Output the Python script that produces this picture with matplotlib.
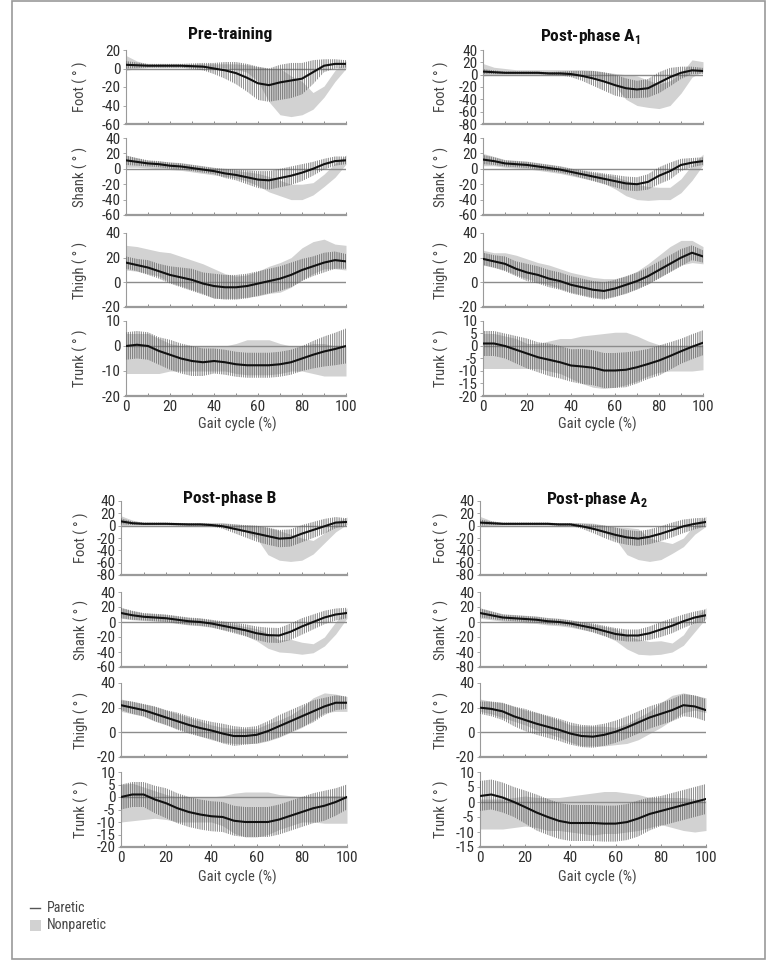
import matplotlib
matplotlib.use('Agg')
import matplotlib.pyplot as plt
from matplotlib.patches import Rectangle
from matplotlib.lines import Line2D
import numpy as np

plt.rcParams['font.family'] = ['Roboto Condensed', 'Liberation Sans Narrow', 'Roboto', 'DejaVu Sans']
plt.rcParams['mathtext.fontset'] = 'custom'
plt.rcParams['mathtext.rm'] = 'Roboto Condensed'
plt.rcParams['mathtext.bf'] = 'Roboto Condensed:bold'
plt.rcParams['hatch.linewidth'] = 0.45

# gait cycle sample points (%)
pct = list(range(0, 101, 5))

# pm/ps = paretic mean/sd, nm/ns = nonparetic mean/sd (degrees)
pre_foot_pm = [4, 3.5, 3, 3, 3, 3, 2.5, 2, 0, -2, -5, -10, -16, -18, -15, -13, -11, -4, 3, 5, 5]
pre_foot_ps = [4, 3, 2, 2, 2, 2, 3, 4, 6, 9, 12, 15, 18, 18, 19, 19, 17, 13, 7, 5, 4]
pre_foot_nm = [6, 4, 3, 3, 3, 3, 3, 3, 3, 3, 2, 0, -6, -18, -25, -30, -32, -35, -25, -8, 4]
pre_foot_ns = [8, 4, 2, 2, 2, 2, 2, 2, 2, 2, 3, 4, 8, 18, 25, 22, 18, 9, 6, 6, 4]

pre_shank_pm = [11, 9, 7, 6, 4, 3, 1, -1, -3, -6, -8, -11, -14, -15, -12, -9, -5, 0, 6, 10, 11]
pre_shank_ps = [6, 5, 4, 4, 4, 4, 4, 4, 4, 6, 7, 9, 11, 12, 12, 12, 11, 9, 7, 6, 5]
pre_shank_nm = [10, 8, 6, 5, 4, 3, 1, -1, -3, -5, -7, -10, -14, -20, -25, -30, -30, -26, -15, -2, 12]
pre_shank_ns = [8, 6, 5, 5, 5, 5, 5, 5, 5, 5, 5, 6, 8, 10, 10, 10, 10, 8, 8, 9, 6]

pre_thigh_pm = [16, 14, 12, 9, 6, 4, 2, -1, -3, -4, -4, -3, -1, 1, 3, 6, 10, 13, 16, 18, 17]
pre_thigh_ps = [5, 5, 6, 6, 7, 8, 9, 9, 10, 10, 10, 10, 10, 10, 10, 10, 9, 8, 8, 7, 6]
pre_thigh_nm = [20, 19, 17, 15, 12, 9, 6, 3, -1, -3, -4, -3, -1, 2, 4, 8, 15, 20, 23, 21, 20]
pre_thigh_ns = [10, 10, 10, 10, 12, 12, 12, 12, 12, 10, 9, 9, 10, 11, 12, 12, 13, 13, 12, 10, 10]

pre_trunk_pm = [0, 0.5, 0, -2, -3.5, -5, -6, -6.5, -6, -6.5, -7.3, -7.7, -7.7, -7.7, -7.3, -6.5, -5, -3.5, -2.2, -1.2, 0]
pre_trunk_ps = [5.5, 5.5, 5.5, 5.5, 6, 6, 6, 5.5, 5, 5, 5, 5, 5, 5, 5, 5, 5, 5.5, 6, 6.5, 7]
pre_trunk_nm = [-3, -3, -3, -4, -4.5, -5, -5, -5, -5, -5, -5, -4.5, -4.5, -4.5, -5, -5, -5, -5, -5.5, -6, -6]
pre_trunk_ns = [8, 8, 8, 7, 5.5, 5, 5, 5, 5, 5, 6, 7, 7, 7, 6, 5, 5, 6, 6.5, 6, 6]

a1_foot_pm = [5, 4, 3, 3, 3, 3, 2, 2, 1, -2, -6, -11, -17, -22, -24, -22, -13, -4, 3, 7, 6]
a1_foot_ps = [4, 3, 2, 2, 2, 2, 2, 3, 5, 8, 12, 15, 17, 16, 14, 15, 17, 15, 10, 6, 5]
a1_foot_nm = [8, 6, 5, 4, 4, 4, 4, 4, 4, 4, 2, -2, -8, -20, -26, -31, -35, -30, -14, 10, 13]
a1_foot_ns = [10, 6, 5, 4, 4, 4, 4, 4, 4, 4, 5, 6, 10, 20, 24, 22, 20, 20, 16, 14, 8]

a1_shank_pm = [12, 10, 7, 6, 5, 3, 1, -1, -4, -7, -10, -13, -16, -19, -20, -17, -9, -3, 5, 8, 10]
a1_shank_ps = [6, 5, 4, 4, 4, 4, 4, 4, 4, 5, 6, 7, 8, 9, 9, 10, 11, 11, 8, 6, 5]
a1_shank_nm = [12, 10, 7, 6, 5, 3, 1, -1, -4, -7, -10, -13, -18, -25, -30, -32, -32, -32, -22, -5, 12]
a1_shank_ns = [8, 6, 5, 5, 5, 5, 5, 5, 5, 5, 5, 6, 8, 10, 10, 9, 8, 8, 9, 10, 7]

a1_thigh_pm = [19, 17, 15, 11, 8, 6, 3, 1, -2, -4, -6, -7, -5, -2, 1, 5, 10, 15, 20, 24, 21]
a1_thigh_ps = [5, 5, 6, 6, 7, 7, 7, 7, 7, 7, 7, 7, 7, 7, 7, 7, 7, 7, 7, 6, 5]
a1_thigh_nm = [20, 18, 17, 14, 11, 8, 6, 3, 0, -2, -4, -5, -4, -2, 2, 7, 13, 19, 24, 25, 22]
a1_thigh_ns = [6, 6, 7, 8, 8, 8, 8, 8, 8, 8, 8, 8, 7, 7, 7, 8, 9, 10, 10, 9, 7]

a1_trunk_pm = [1, 1, 0, -1.5, -3, -4.5, -5.5, -6.5, -7.8, -8.2, -8.7, -9.8, -9.8, -9.5, -8.5, -7.2, -5.8, -4, -2.1, -0.3, 1.3]
a1_trunk_ps = [5, 5, 5, 5.5, 6, 6, 6.5, 6.5, 6.5, 7, 7, 7, 7, 7, 6.5, 6, 6, 5.5, 5, 5, 5]
a1_trunk_nm = [-2, -2, -2.5, -3, -4, -4, -4, -4, -5, -5.5, -6, -6, -5.5, -5, -5, -5, -5, -5, -5, -5, -4.5]
a1_trunk_ns = [7, 7, 6.5, 6, 5, 5, 6, 7, 8, 9.5, 10.5, 11, 11, 10.5, 9, 7, 5.5, 5, 5, 5, 5]

b_foot_pm = [7, 4, 3, 3, 3, 2.5, 2, 2, 1, -1, -5, -9, -13, -17, -21, -20, -13, -7, -1, 5, 6]
b_foot_ps = [5, 3, 2, 2, 2, 2, 2, 2, 2, 4, 7, 10, 13, 14, 14, 14, 14, 13, 12, 9, 6]
b_foot_nm = [8, 5, 3, 3, 3, 3, 3, 3, 3, 3, 0, -4, -10, -25, -32, -36, -38, -35, -20, -2, 8]
b_foot_ns = [8, 4, 2, 2, 2, 2, 2, 2, 2, 2, 3, 5, 10, 22, 24, 22, 18, 11, 8, 8, 6]

b_shank_pm = [12, 9, 7, 6, 5, 3, 1, 0, -2, -5, -8, -11, -15, -17.5, -18, -13, -6, 0, 6, 10, 12]
b_shank_ps = [7, 6, 5, 5, 5, 5, 5, 5, 5, 6, 7, 8, 9, 10, 10, 11, 11, 10, 9, 8, 7]
b_shank_nm = [12, 9, 7, 6, 5, 3, 1, 0, -2, -5, -8, -12, -17, -25, -32, -32, -35, -35, -26, -8, 12]
b_shank_ns = [7, 6, 5, 5, 5, 5, 5, 5, 5, 5, 5, 6, 8, 10, 8, 9, 8, 6, 6, 8, 7]

b_thigh_pm = [22, 20, 18, 15, 12, 9, 6, 3.5, 1.5, -1, -3, -3, -2, 1, 5, 9, 13, 17, 21, 24, 24]
b_thigh_ps = [4, 5, 5, 6, 6, 7, 7, 7, 7, 8, 8, 7, 7, 8, 9, 9, 9, 9, 7, 6, 5]
b_thigh_nm = [22, 20, 18, 15, 12, 9, 6, 3, 0, -2, -3, -3, -3, 0, 3, 7, 12, 19, 24, 24, 23]
b_thigh_ns = [5, 5, 5, 6, 6, 6, 6, 6, 6, 6, 6, 6, 6, 7, 7, 7, 8, 9, 8, 7, 6]

b_trunk_pm = [0, 1, 1, -1, -2.5, -4.5, -6, -7, -7.7, -8, -9.5, -10, -10, -10, -9, -7.5, -6, -4.5, -3.5, -2, 0]
b_trunk_ps = [5, 5, 5, 5.5, 6, 6, 6, 6, 6, 6, 6, 6, 6, 6, 6, 6, 6, 6, 6, 5.5, 5]
b_trunk_nm = [-2.5, -2, -2.5, -3, -4, -5, -5, -5, -5, -5.5, -6.5, -7, -7, -6.5, -6, -5.5, -5, -5, -5, -5, -5]
b_trunk_ns = [7.5, 7.5, 6.5, 5.5, 5, 5, 5, 5, 5, 6, 8, 9, 9, 8.5, 7, 6, 5, 5, 5.5, 5.5, 5.5]

a2_foot_pm = [5, 4, 3, 3, 3, 3, 3, 2, 2, -1, -5, -10, -15, -19, -21, -18, -13, -7, -1, 3, 6]
a2_foot_ps = [5, 3, 2, 2, 2, 2, 2, 2, 2, 4, 7, 10, 12, 12, 12, 12, 12, 12, 11, 9, 7]
a2_foot_nm = [7, 4, 3, 3, 3, 3, 3, 3, 3, 3, 0, -5, -12, -25, -30, -39, -40, -37, -27, -6, 7]
a2_foot_ns = [8, 4, 2, 2, 2, 2, 2, 2, 2, 2, 4, 6, 10, 22, 25, 19, 15, 8, 7, 8, 8]

a2_shank_pm = [12, 9, 6, 5, 4, 3, 1, 0, -2, -5, -8, -12, -16, -18, -18, -15, -10, -5, 1, 6, 9]
a2_shank_ps = [6, 5, 4, 4, 4, 4, 4, 4, 4, 5, 6, 7, 8, 8, 8, 9, 10, 10, 9, 8, 8]
a2_shank_nm = [12, 9, 6, 5, 4, 3, 1, 0, -2, -5, -8, -12, -17, -27, -33, -35, -34, -34, -24, -4, 12]
a2_shank_ns = [7, 6, 5, 5, 5, 5, 5, 5, 5, 5, 5, 6, 8, 9, 10, 9, 9, 6, 7, 9, 7]

a2_thigh_pm = [20, 19, 17, 13, 10, 7, 4.5, 2, -1, -3, -3.5, -2, 0.5, 4, 8, 12, 15, 18, 22, 21, 18]
a2_thigh_ps = [5, 6, 7, 8, 9, 9, 9, 9, 9, 9, 9, 9, 9, 9, 9, 9, 9, 9, 9, 9, 9]
a2_thigh_nm = [22, 20, 18, 15, 12, 9, 6, 3, -1, -3, -3, -3, -3, -1, 3, 8, 14, 20, 24, 24, 22]
a2_thigh_ns = [5, 5, 6, 6, 6, 7, 7, 7, 7, 8, 8, 8, 7, 8, 9, 9, 10, 10, 8, 6, 6]

a2_trunk_pm = [2, 2.5, 1.5, 0, -1.7, -3.5, -5, -6.3, -7, -7, -7, -7.2, -7.2, -6.7, -5.5, -4, -3, -2, -1, 0, 1]
a2_trunk_ps = [5, 5, 5, 5, 5.5, 6, 6, 6, 6, 6, 6, 6, 6, 6, 6, 5.5, 5, 5, 5, 5, 5]
a2_trunk_nm = [-4, -4, -4, -3.5, -3, -3.5, -4, -4, -4, -4, -4, -3.5, -3.5, -3.5, -3.5, -3.5, -3, -3.5, -4, -4.5, -4.5]
a2_trunk_ns = [5, 5, 5, 5, 5, 5, 5.5, 5.5, 6, 6.5, 7, 7, 7, 6.5, 6, 5, 4.5, 5, 5.5, 5.5, 5]

segments = ['Foot', 'Shank', 'Thigh', 'Trunk']
titles = ['Pre-training', r'Post-phase A$_\mathbf{1}$', 'Post-phase B', r'Post-phase A$_\mathbf{2}$']

# y tick values per panel (top to bottom); label text can differ (typo kept)
yticks = {
    'pre': [[20, 0, -20, -40, -60], [40, 20, 0, -20, -40, -60], [40, 20, 0, -20], [10, 0, -10, -20]],
    'a1': [[40, 20, 0, -20, -40, -60, -80], [40, 20, 0, -20, -40, -60], [40, 20, 0, -20],
           [10, 5, 0, -5, -10, -15, -20]],
    'b': [[40, 20, 0, -20, -40, -60, -80], [40, 20, 0, -20, -40, -60], [40, 20, 0, -20],
          [10, 5, 0, -5, -10, -15, -20]],
    'a2': [[40, 20, 0, -20, -40, -60, -80], [40, 20, 0, -20, -40, -60], [40, 20, 0, -20],
           [10, 5, 0, -5, -10, -15]],
}
a2_shank_labels = ['40', '20', '0', '-20', '-40', '-80']

data = {
    'pre': [(pre_foot_pm, pre_foot_ps, pre_foot_nm, pre_foot_ns),
            (pre_shank_pm, pre_shank_ps, pre_shank_nm, pre_shank_ns),
            (pre_thigh_pm, pre_thigh_ps, pre_thigh_nm, pre_thigh_ns),
            (pre_trunk_pm, pre_trunk_ps, pre_trunk_nm, pre_trunk_ns)],
    'a1': [(a1_foot_pm, a1_foot_ps, a1_foot_nm, a1_foot_ns),
           (a1_shank_pm, a1_shank_ps, a1_shank_nm, a1_shank_ns),
           (a1_thigh_pm, a1_thigh_ps, a1_thigh_nm, a1_thigh_ns),
           (a1_trunk_pm, a1_trunk_ps, a1_trunk_nm, a1_trunk_ns)],
    'b': [(b_foot_pm, b_foot_ps, b_foot_nm, b_foot_ns),
          (b_shank_pm, b_shank_ps, b_shank_nm, b_shank_ns),
          (b_thigh_pm, b_thigh_ps, b_thigh_nm, b_thigh_ns),
          (b_trunk_pm, b_trunk_ps, b_trunk_nm, b_trunk_ns)],
    'a2': [(a2_foot_pm, a2_foot_ps, a2_foot_nm, a2_foot_ns),
           (a2_shank_pm, a2_shank_ps, a2_shank_nm, a2_shank_ns),
           (a2_thigh_pm, a2_thigh_ps, a2_thigh_nm, a2_thigh_ns),
           (a2_trunk_pm, a2_trunk_ps, a2_trunk_nm, a2_trunk_ns)],
}

W, H = 776, 965
fig = plt.figure(figsize=(W / 100, H / 100), dpi=100)

# layout in pixels
cols = {'pre': (126, 346), 'a1': (483, 703), 'b': (121, 347), 'a2': (480, 706)}
rows_top = [(50, 124), (138, 215), (233, 307), (321, 396)]
rows_bot = [(501, 575), (592, 667), (683, 757), (772, 847)]
title_pos = {'pre': (230, 35), 'a1': (590, 37), 'b': (230, 499), 'a2': (597, 500)}
ylab_x = {'pre': 80, 'a1': 441, 'b': 81, 'a2': 441}

GRAY_TXT = '#2e2e2e'
AXIS_GRAY = '#9a9a9a'


def fx(x):
    return x / W


def fy(y):
    return 1 - y / H


for key, title in zip(['pre', 'a1', 'b', 'a2'], titles):
    x0, x1 = cols[key]
    rows = rows_top if key in ('pre', 'a1') else rows_bot
    for i, seg in enumerate(segments):
        top, bot = rows[i]
        ax = fig.add_axes([fx(x0), fy(bot), (x1 - x0) / W, (bot - top) / H])
        pm, ps, nm, ns = [np.array(v, dtype=float) for v in data[key][i]]

        ax.fill_between(pct, nm - ns, nm + ns, color='#d2d2d2', lw=0, zorder=1)
        ax.axhline(0, color='#8c8c8c', lw=1.0, zorder=2)
        ax.fill_between(pct, pm - ps, pm + ps, facecolor='none', edgecolor='#555555',
                        hatch='|||||||||', lw=0, zorder=3)
        ax.plot(pct, pm, color='#111111', lw=1.5, zorder=4)

        ticks = yticks[key][i]
        ax.set_ylim(min(ticks), max(ticks))
        ax.set_yticks(ticks)
        if key == 'a2' and seg == 'Shank':
            ax.set_yticklabels(a2_shank_labels)
        else:
            ax.set_yticklabels([str(t) for t in ticks])
        ax.set_xlim(0, 100)
        ax.set_xticks(range(0, 101, 20))
        ax.set_xticks(range(0, 101, 10), minor=True)

        for s in ['top', 'right']:
            ax.spines[s].set_visible(False)
        ax.spines['left'].set_color(AXIS_GRAY)
        ax.spines['left'].set_linewidth(0.8)
        ax.spines['bottom'].set_color(AXIS_GRAY)
        ax.spines['bottom'].set_linewidth(1.6)
        ax.tick_params(axis='y', length=2, width=0.6, color=AXIS_GRAY, pad=2,
                       labelsize=11, labelcolor=GRAY_TXT)
        ax.tick_params(axis='x', which='both', direction='in', length=2, width=0.6,
                       color='#777777', labelsize=11, labelcolor=GRAY_TXT, pad=3)
        if seg != 'Trunk':
            ax.tick_params(axis='x', labelbottom=False)

        fig.text(fx(ylab_x[key]), fy((top + bot) / 2), seg + ' ( \u00b0 )', rotation=90,
                 ha='center', va='center', fontsize=10.5, color='#444444')

    tx, ty = title_pos[key]
    fig.text(fx(tx), fy(ty), title, ha='center', va='center', fontsize=12.5,
             fontweight='bold', color='#111111')
    xc = 237 if key in ('pre', 'b') else 597
    xy = 424 if key in ('pre', 'a1') else 877
    fig.text(fx(xc), fy(xy), 'Gait cycle (%)', ha='center', va='center', fontsize=10.5,
             color='#444444')

# legend
fig.add_artist(Line2D([fx(30), fx(40)], [fy(908), fy(908)], color='#555555', lw=1.0))
fig.text(fx(47), fy(908), 'Paretic', ha='left', va='center', fontsize=10, color='#444444')
fig.add_artist(Rectangle((fx(30), fy(931)), 11 / W, 11 / H, facecolor='#d2d2d2',
                         edgecolor='none', transform=fig.transFigure))
fig.text(fx(47), fy(925), 'Nonparetic', ha='left', va='center', fontsize=10, color='#444444')

# outer frame
fig.add_artist(Rectangle((fx(12), fy(959)), (765 - 12) / W, (959 - 1) / H, facecolor='none',
                         edgecolor='#999999', lw=1.2, transform=fig.transFigure))

fig.savefig('out.png', dpi=100)
